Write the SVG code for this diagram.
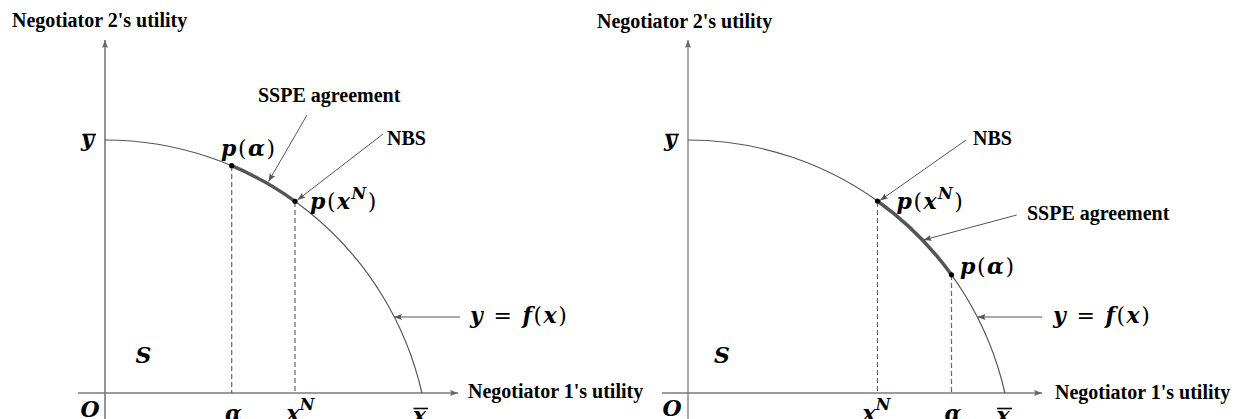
<svg xmlns="http://www.w3.org/2000/svg" width="1237" height="419" viewBox="0 0 1237 419">
<style>
.lbl{font-family:"Liberation Serif","Times New Roman",serif;font-weight:bold;font-size:20px;fill:#000}
.m{font-family:"DejaVu Serif",serif;font-style:italic;font-weight:bold;font-size:22px;fill:#000}
.w{letter-spacing:1.5px}
.up{font-style:normal;font-weight:normal}
.sup{font-size:16px}
.axis{stroke:#7a7a7a;stroke-width:1.3;fill:none}
.curve{stroke:#555;stroke-width:1.2;fill:none}
.heavy{stroke:#555;stroke-width:3.5;fill:none;stroke-linecap:round}
.dash{stroke:#666;stroke-width:1.2;stroke-dasharray:5 3;fill:none}
.lead{stroke:#555;stroke-width:1;fill:none}
.bar{stroke:#000;stroke-width:1.6}
</style>
<defs>
<marker id="ah" markerUnits="userSpaceOnUse" markerWidth="10" markerHeight="8" refX="8" refY="3" orient="auto">
<path d="M0,0 L8,3 L0,6 L1.5,3 z" fill="#555"/>
</marker>
<marker id="axh" markerUnits="userSpaceOnUse" markerWidth="10" markerHeight="8" refX="8" refY="3" orient="auto">
<path d="M0,0 L8,3 L0,6 L1.5,3 z" fill="#666"/>
</marker>
</defs>

<g id="left-panel">
<g id="left-axes">
<line class="axis" x1="105" y1="419" x2="105" y2="40" marker-end="url(#axh)" style="stroke-width:1.6"/>
<line class="axis" x1="78" y1="393" x2="458" y2="393" marker-end="url(#axh)"/>
</g>
<g id="left-frontier">
<path class="curve" d="M105 140 A325 325 0 0 1 421.9 393"/>
<path class="heavy" d="M231.7 165.7 A325 325 0 0 1 295 201.3"/>
<line class="dash" x1="231.7" y1="166" x2="231.7" y2="393"/>
<line class="dash" x1="295" y1="202" x2="295" y2="393"/>
</g>
<g id="left-p-alpha"><circle cx="231.7" cy="165.7" r="2.6" fill="#000"/>
<text class="m w" x="221" y="156">p<tspan class="up">(</tspan>α<tspan class="up">)</tspan></text></g>
<g id="left-p-xN"><circle cx="295" cy="201.3" r="2.6" fill="#000"/>
<text class="m w" x="310" y="209">p<tspan class="up">(</tspan>x<tspan class="sup" dy="-10">N</tspan><tspan class="up" dy="10">)</tspan></text></g>
<g id="left-ybar"><text class="m" x="81" y="146">y</text><line class="bar" x1="83" y1="134.5" x2="96" y2="134.5"/></g>
<g id="left-xbar"><text class="m" x="413" y="423">x</text><line class="bar" x1="413.5" y1="408.5" x2="428" y2="408.5"/></g>
<g id="left-alpha"><text class="m" x="225" y="421">α</text></g>
<g id="left-xN"><text class="m" x="286.5" y="421">x<tspan class="sup" dy="-11">N</tspan></text></g>
<g id="left-O"><text class="m" x="80.5" y="416.5">O</text></g>
<g id="left-S"><text class="m" x="135.5" y="363">S</text></g>
<g id="left-f"><text class="m w" x="470" y="323">y <tspan class="up">=</tspan> f<tspan class="up">(</tspan>x<tspan class="up">)</tspan></text></g>
<g id="left-ylabel"><text class="lbl" x="12" y="27">Negotiator 2's utility</text></g>
<g id="left-xlabel"><text class="lbl" x="468" y="398">Negotiator 1's utility</text></g>
<g id="left-sspe"><text class="lbl" x="258" y="102">SSPE agreement</text></g>
<g id="left-nbs"><text class="lbl" x="387" y="145">NBS</text></g>
</g>

<g id="right-panel">
<g id="right-axes">
<line class="axis" x1="688" y1="419" x2="688" y2="40" marker-end="url(#axh)"/>
<line class="axis" x1="662" y1="393" x2="1042" y2="393" marker-end="url(#axh)"/>
</g>
<g id="right-frontier">
<path class="curve" d="M688 140 A325 325 0 0 1 1004.9 393"/>
<path class="heavy" d="M877.5 201 A325 325 0 0 1 951.5 274.8"/>
<line class="dash" x1="877.5" y1="202" x2="877.5" y2="393"/>
<line class="dash" x1="951.5" y1="275" x2="951.5" y2="393"/>
</g>
<g id="right-p-xN"><circle cx="877.5" cy="201" r="2.6" fill="#000"/>
<text class="m w" x="896.5" y="209">p<tspan class="up">(</tspan>x<tspan class="sup" dy="-10">N</tspan><tspan class="up" dy="10">)</tspan></text></g>
<g id="right-p-alpha"><circle cx="951.5" cy="274.8" r="2.6" fill="#000"/>
<text class="m w" x="960" y="274">p<tspan class="up">(</tspan>α<tspan class="up">)</tspan></text></g>
<g id="right-ybar"><text class="m" x="664" y="146">y</text><line class="bar" x1="666" y1="134.5" x2="679" y2="134.5"/></g>
<g id="right-xbar"><text class="m" x="996.5" y="423">x</text><line class="bar" x1="997" y1="408.5" x2="1012" y2="408.5"/></g>
<g id="right-xN"><text class="m" x="862.5" y="421">x<tspan class="sup" dy="-11">N</tspan></text></g>
<g id="right-alpha"><text class="m" x="944.5" y="421">α</text></g>
<g id="right-O"><text class="m" x="662.5" y="416">O</text></g>
<g id="right-S"><text class="m" x="714" y="363">S</text></g>
<g id="right-f"><text class="m w" x="1053" y="323">y <tspan class="up">=</tspan> f<tspan class="up">(</tspan>x<tspan class="up">)</tspan></text></g>
<g id="right-ylabel"><text class="lbl" x="597" y="28">Negotiator 2's utility</text></g>
<g id="right-xlabel"><text class="lbl" x="1055" y="398.5">Negotiator 1's utility</text></g>
<g id="right-nbs"><text class="lbl" x="973" y="145">NBS</text></g>
<g id="right-sspe"><text class="lbl" x="1027" y="220">SSPE agreement</text></g>
</g>

<g id="connectors">
<line class="lead" x1="307" y1="115" x2="268.5" y2="181.5" marker-end="url(#ah)"/>
<line class="lead" x1="383" y1="134" x2="297.5" y2="200" marker-end="url(#ah)"/>
<line class="lead" x1="460" y1="317" x2="394" y2="317" marker-end="url(#ah)"/>
<line class="lead" x1="966" y1="140" x2="880" y2="200.5" marker-end="url(#ah)"/>
<line class="lead" x1="1016.7" y1="215" x2="923.5" y2="240" marker-end="url(#ah)"/>
<line class="lead" x1="1042" y1="317" x2="977.5" y2="317" marker-end="url(#ah)"/>
</g>
</svg>
